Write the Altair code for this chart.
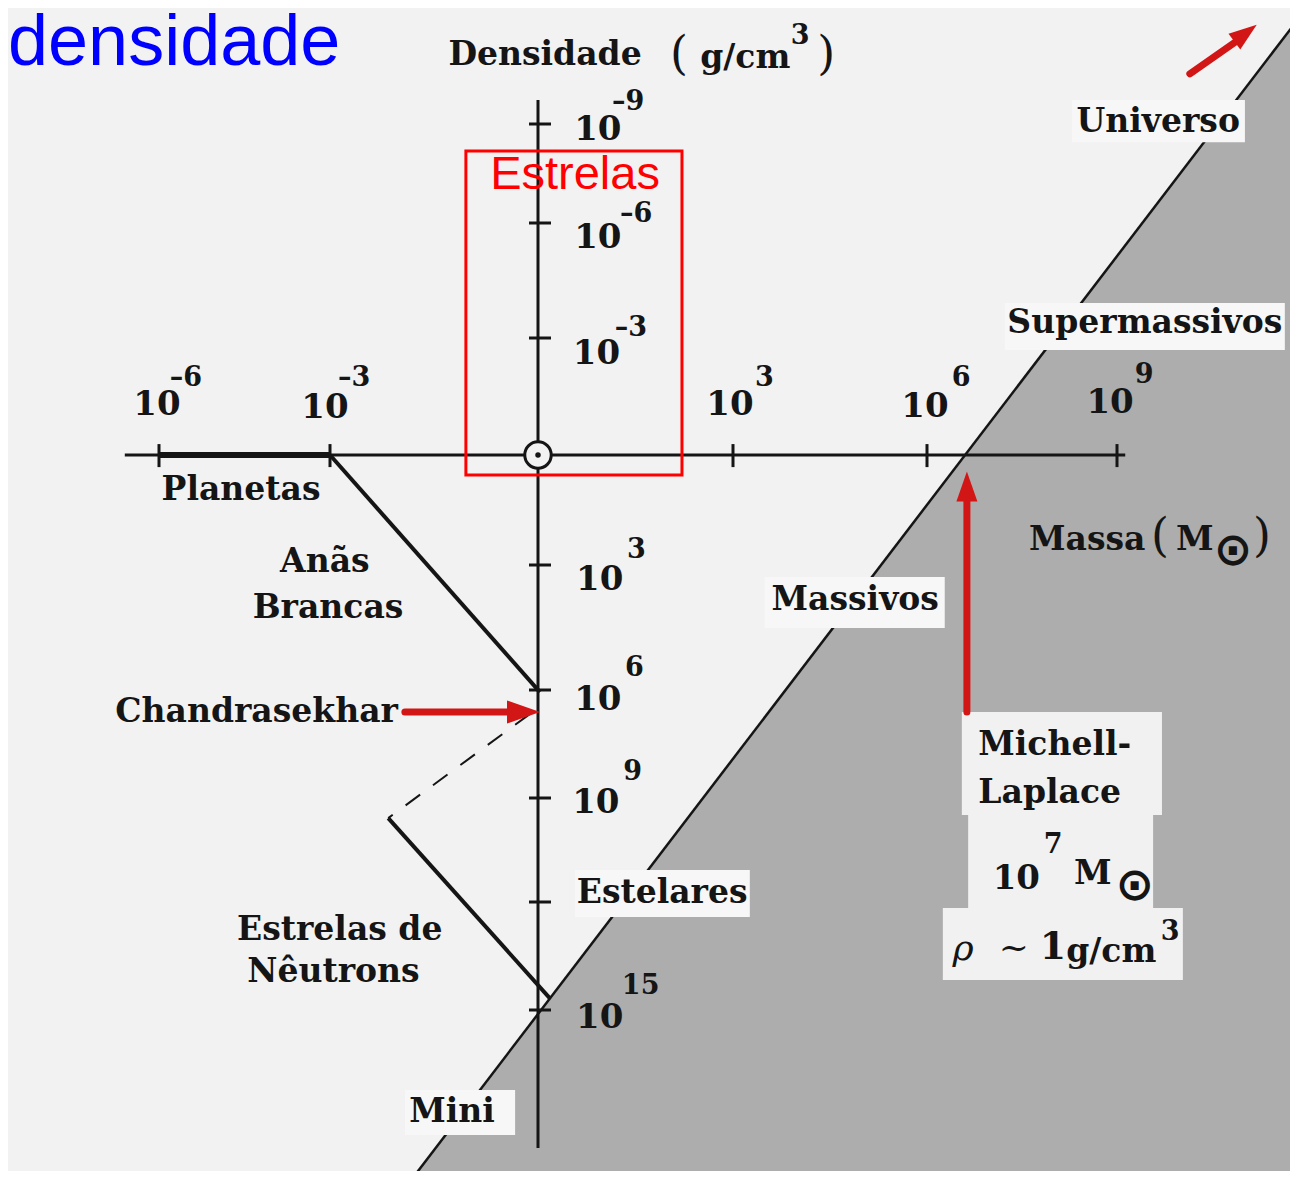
import altair as alt
import pandas as pd

# ---------------- colours / fonts ----------------
BG = "#f2f2f2"
GRAY = "#adadad"
BOXC = "#f7f7f7"
INK = "#151515"
DARKRED = "#d21616"
SERIF = "DejaVu Serif"
SANS = "Liberation Sans"

# ---------------- scale calibration (log10 value -> drawing position) ----------------
mass_scale_domain = [-6, -3, 0, 3, 6, 9]
mass_scale_range = [151, 322, 530, 725, 919, 1109]
dens_scale_domain = [-9, -6, -3, 0, 3, 6, 9, 12, 15]
dens_scale_range = [116, 215, 330, 447, 557, 682, 790, 894, 1002]

# ---------------- data (log10 mass in M_sun, log10 density in g/cm^3) ----------------
mass_ticks = [-6, -3, 3, 6, 9]
dens_ticks = [-9, -6, -3, 3, 6, 9, 12, 15]
dens_tick_labels = [-9, -6, -3, 3, 6, 9, 15]

# sequences of objects (start / end): white dwarfs, neutron stars
seg_m1 = [-3.0, -2.16]
seg_m2 = [0.03, 0.18]
seg_r1 = [0.0, 9.58]
seg_r2 = [6.06, 14.67]
planet_m = [-6.0, -3.0]
planet_r = [0.0, 0.0]
chandra_dash_m = [-0.12, -2.16]
chandra_dash_r = [6.67, 9.58]

# Michell-Laplace limit (rho ~ M^-2)
limit_m = [-2.05, 12.33]
limit_r = [20.28, -13.36]
limit_floor = 22.0

# axes extents
haxis_m = [-6.6, 9.13]
vaxis_r = [-9.73, 18.83]

W, H = 1282, 1163


def X(f):
    return alt.X(f, type="quantitative",
                 scale=alt.Scale(domain=mass_scale_domain, range=mass_scale_range, nice=False, zero=False),
                 axis=None)


def Y(f):
    return alt.Y(f, type="quantitative",
                 scale=alt.Scale(domain=dens_scale_domain, range=dens_scale_range, nice=False, zero=False),
                 axis=None)


layers = []

# ---- grey region beyond the Michell-Laplace limit
gray_df = pd.DataFrame({"x": limit_m, "y": limit_r, "y2": [limit_floor, limit_floor]})
layers.append(alt.Chart(gray_df).mark_area(color=GRAY, clip=True, opacity=1).encode(
    x=X("x"), y=Y("y"), y2="y2:Q"))
lim_df = pd.DataFrame({"x": [limit_m[0]], "x2": [limit_m[1]], "y": [limit_r[0]], "y2": [limit_r[1]]})
layers.append(alt.Chart(lim_df).mark_rule(color=INK, strokeWidth=2.5, clip=True).encode(
    x=X("x"), x2="x2:Q", y=Y("y"), y2="y2:Q"))

# ---- label boxes
box_names = ["Universo", "Supermassivos", "Massivos", "Estelares", "Mini", "ML1", "ML2", "ML3"]
box_x1 = [8.29, 7.23, 3.49, 0.57, -1.92, 6.55, 6.65, 6.25]
box_x2 = [11.02, 11.65, 6.28, 3.26, -0.33, 9.71, 9.57, 10.04]
box_y1 = [-9.73, -3.91, 3.29, 11.08, 17.22, 6.61, 9.49, 12.17]
box_y2 = [-8.45, -2.69, 4.51, 12.42, 18.47, 9.49, 12.17, 14.17]
box_df = pd.DataFrame({"n": box_names, "x": box_x1, "x2": box_x2, "y": box_y1, "y2": box_y2})
box_df["c"] = [BOXC] * 5 + ["#f1f1f1"] * 3
layers.append(alt.Chart(box_df).mark_rect(strokeWidth=0).encode(
    x=X("x"), x2="x2:Q", y=Y("y"), y2="y2:Q", color=alt.Color("c:N", scale=None)))

# ---- axes
ax_df = pd.DataFrame({"x": [haxis_m[0], 0.0], "x2": [haxis_m[1], 0.0],
                      "y": [0.0, vaxis_r[0]], "y2": [0.0, vaxis_r[1]]})
layers.append(alt.Chart(ax_df).mark_rule(color=INK, strokeWidth=3).encode(
    x=X("x"), x2="x2:Q", y=Y("y"), y2="y2:Q"))

htick_df = pd.DataFrame({"x": mass_ticks, "y": [-0.28] * len(mass_ticks), "y2": [0.33] * len(mass_ticks)})
layers.append(alt.Chart(htick_df).mark_rule(color=INK, strokeWidth=3).encode(
    x=X("x"), y=Y("y"), y2="y2:Q"))
vtick_df = pd.DataFrame({"y": dens_ticks, "x": [-0.13] * len(dens_ticks), "x2": [0.2] * len(dens_ticks)})
layers.append(alt.Chart(vtick_df).mark_rule(color=INK, strokeWidth=3).encode(
    y=Y("y"), x=X("x"), x2="x2:Q"))

# ---- planets bar
pl_df = pd.DataFrame({"x": [planet_m[0]], "x2": [planet_m[1]], "y": [planet_r[0]], "y2": [planet_r[1]]})
layers.append(alt.Chart(pl_df).mark_rule(color=INK, strokeWidth=6).encode(
    x=X("x"), x2="x2:Q", y=Y("y"), y2="y2:Q"))

# ---- white dwarfs & neutron stars
seg_df = pd.DataFrame({"x": seg_m1, "x2": seg_m2, "y": seg_r1, "y2": seg_r2})
layers.append(alt.Chart(seg_df).mark_rule(color=INK, strokeWidth=4).encode(
    x=X("x"), x2="x2:Q", y=Y("y"), y2="y2:Q"))
dash_df = pd.DataFrame({"x": [chandra_dash_m[0]], "x2": [chandra_dash_m[1]],
                        "y": [chandra_dash_r[0]], "y2": [chandra_dash_r[1]]})
layers.append(alt.Chart(dash_df).mark_rule(color=INK, strokeWidth=2, strokeDash=[18, 16]).encode(
    x=X("x"), x2="x2:Q", y=Y("y"), y2="y2:Q"))

# ---- sun symbol at origin
sun_df = pd.DataFrame({"x": [0.0], "y": [0.0]})
layers.append(alt.Chart(sun_df).mark_point(shape="circle", size=700, filled=True, fill=BG,
                                           stroke=INK, strokeWidth=3, opacity=1).encode(x=X("x"), y=Y("y")))
layers.append(alt.Chart(sun_df).mark_point(shape="circle", size=30, filled=True, color=INK, opacity=1).encode(
    x=X("x"), y=Y("y")))

# ---- red "Estrelas" box
rb_df = pd.DataFrame({"x": [-1.04], "x2": [2.215], "y": [-8.18], "y2": [0.545]})
layers.append(alt.Chart(rb_df).mark_rect(fill="transparent", stroke="#ff0000", strokeWidth=3).encode(
    x=X("x"), x2="x2:Q", y=Y("y"), y2="y2:Q"))


def text_layer(texts, xs, ys, size, weight="bold", align="center", baseline="middle",
               font=SERIF, color=INK, style="normal"):
    df = pd.DataFrame({"t": texts, "x": xs, "y": ys})
    return alt.Chart(df).mark_text(font=font, fontSize=size, fontWeight=weight, align=align,
                                   baseline=baseline, color=color, fontStyle=style).encode(
        x=X("x"), y=Y("y"), text="t:N")


def exp_text(v):
    return ("–" + str(-v)) if v < 0 else str(v)


# ---- region labels
lab_t = ["Planetas", "Anãs", "Brancas", "Estrelas de", "Nêutrons", "Mini", "Estelares",
         "Massivos", "Supermassivos", "Universo", "Densidade", "Massa", "g/cm"]
lab_x = [-4.56, -3.09, -3.035, -2.86, -2.95, -1.24, 1.91, 4.89, 9.44, 9.65, 0.108, 8.53, 3.19]
lab_y = [0.95, 2.92, 4.03, 12.78, 13.94, 17.83, 11.74, 3.84, -3.39, -9.06, -11.09, 2.32, -11.0]
layers.append(text_layer(lab_t, lab_x, lab_y, 33))
layers.append(text_layer(["Chandrasekhar"], [-2.02], [6.61], 33, align="right"))
layers.append(text_layer(["Michell-", "Laplace"], [6.81, 6.81], [7.81, 9.14], 33,
                         align="left", baseline="alphabetic"))

# ---- tick labels, mass axis
layers.append(text_layer(["10"] * len(mass_ticks),
                         [-6.035, -3.088, 2.954, 5.969, 8.89],
                         [-1.28, -1.21, -1.28, -1.23, -1.33], 34))
layers.append(text_layer([exp_text(v) for v in mass_ticks],
                         [-5.81, -2.885, 3.34, 6.39, 9.28],
                         [-1.97, -1.97, -1.97, -1.97, -2.05], 27, align="left"))

# ---- tick labels, density axis
layers.append(text_layer(["10"] * len(dens_tick_labels),
                         [0.92, 0.92, 0.9, 0.95, 0.92, 0.89, 0.95],
                         [-8.82, -5.6, -2.59, 3.36, 6.28, 9.14, 15.22], 34))
layers.append(text_layer([exp_text(v) for v in dens_tick_labels],
                         [1.14, 1.26, 1.18, 1.37, 1.34, 1.31, 1.29],
                         [-9.67, -6.27, -3.26, 2.59, 5.47, 8.28, 14.33], 27, align="left"))

# ---- parentheses and units
layers.append(text_layer(["(", ")", "(", ")"], [2.17, 4.44, 9.68, 11.29],
                         [-11.09, -11.09, 2.24, 2.24], 46, weight="normal"))
layers.append(text_layer(["3", "7", "3"], [4.04, 7.99, 9.84], [-11.67, 10.36, 12.83], 27))
layers.append(text_layer(["M", "10", "M"], [10.23, 7.41, 8.62], [2.32, 11.34, 11.19], 34))
layers.append(text_layer(["⊙", "⊙"], [10.83, 9.28], [2.62, 11.55], 46, font="DejaVu Sans"))
layers.append(text_layer(["ρ"], [6.57], [13.3], 36, weight="normal", style="italic"))
layers.append(text_layer(["~"], [7.37], [13.28], 36, weight="normal"))
layers.append(text_layer(["1"], [7.99], [13.28], 38))
layers.append(text_layer(["g/cm"], [8.91], [13.39], 33))

# ---- red / blue annotations
layers.append(text_layer(["Estrelas"], [0.57], [-7.46], 47, weight="normal", font=SANS, color="#ff0000"))
layers.append(text_layer(["densidade"], [-8.649], [-10.8], 72, weight="normal", font=SANS,
                         color="#0000ff", align="left", baseline="alphabetic"))

# ---- arrows
arrow_x1 = [-1.92, 6.63, 10.15]
arrow_x2 = [-0.33, 6.63, 10.94]
arrow_y1 = [6.61, 6.61, -10.52]
arrow_y2 = [6.61, 1.23, -11.58]
shaft_df = pd.DataFrame({"x": arrow_x1, "x2": arrow_x2, "y": arrow_y1, "y2": arrow_y2})
layers.append(alt.Chart(shaft_df).mark_rule(color=DARKRED, strokeWidth=7, strokeCap="round").encode(
    x=X("x"), x2="x2:Q", y=Y("y"), y2="y2:Q"))
HEAD = "M1,0L-1,-0.7L-1,0.7Z"
head_x = [-0.209, 6.63, 11.03]
head_y = [6.61, 0.86, -11.75]
head_ang = [0, 270, 323]
head_size = [1089, 900, 784]
for hx, hy, ha, hs in zip(head_x, head_y, head_ang, head_size):
    hdf = pd.DataFrame({"x": [hx], "y": [hy]})
    layers.append(alt.Chart(hdf).mark_point(shape=HEAD, size=hs, angle=ha, filled=True,
                                            color=DARKRED, opacity=1).encode(x=X("x"), y=Y("y")))

chart = alt.layer(*layers).properties(
    width=W, height=H, padding=0,
    autosize=alt.AutoSizeParams(type="none"),
    background=BG,
).configure_view(stroke=None)

chart.save("out.html", embed_options={"renderer": "svg", "actions": False})
